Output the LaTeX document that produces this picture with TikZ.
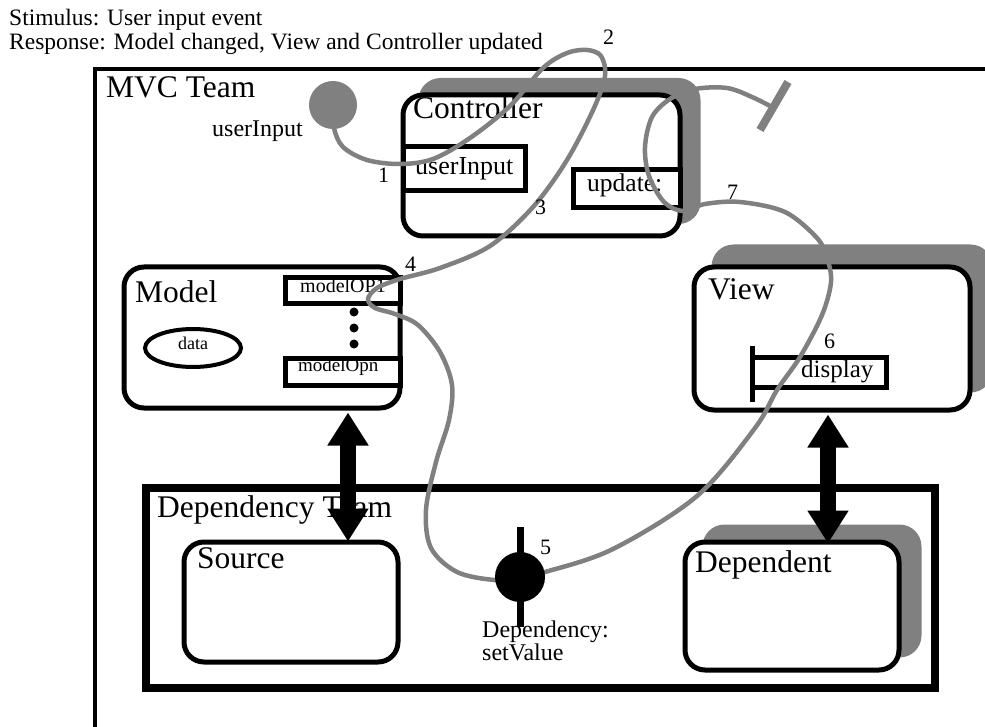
\documentclass[tikz,border=0pt]{standalone}
\usepackage{fontspec}
\setmainfont{Liberation Serif}
\usetikzlibrary{arrows.meta,calc,shapes.geometric}
\begin{document}
\begin{tikzpicture}[x=1pt,y=-1pt,
  txt/.style={inner sep=0pt, anchor=base west},
  fs/.style={font=\fontsize{#1}{#1}\selectfont},
  box/.style={draw, line width=5pt, rounded corners=20pt, fill=white, inner sep=0pt},
  shade/.style={fill=gray, rounded corners=22pt, inner sep=0pt},
  slot/.style={draw, line width=5pt, fill=white, inner sep=0pt},
  flow/.style={draw=gray, line width=4.5pt, line cap=round},
  bigarrow/.style={line width=16pt,
    {Triangle[width=39pt,length=33pt]}-{Triangle[width=39pt,length=33pt]}},
  dot/.style={circle, fill, inner sep=0pt, minimum size=9pt},
]
\fill[white] (0,0) rectangle (985,727);
\useasboundingbox (0,0) rectangle (985,727);
\clip (0,0) rectangle (985,727);

% heading
\node[txt, fs=23.5] (stim) at (9,26) {Stimulus: User input event};
\node[txt, fs=23.5] (resp) at (9,49.5) {Response: Model changed, View and Controller updated};

% MVC team frame (runs off the page right and below)
\draw[line width=4.5pt] (95,740) -- (95,69) -- (1000,69);
\node[txt, fs=31.5] (mvcT) at (106,98) {MVC Team};

% shadows of the active components
\node[shade, minimum width=282, minimum height=146] (ctrlS) at (559.5,151) {};
\node[shade, minimum width=281, minimum height=148] (viewS) at (852,318.5) {};
\node[shade, minimum width=219, minimum height=133] (depnS) at (812,591) {};

% Controller
\node[box, minimum width=277, minimum height=141] (ctrl) at (541.5,165.5) {};
\node[txt, fs=31.5] (ctrlT) at (413,119) {Controller};
\node[slot, minimum width=122, minimum height=44] (uiSlot) at (464,169) {};
\node[txt, fs=26] (uiT) at (415,175) {userInput};
\node[slot, minimum width=107, minimum height=38] (upSlot) at (626.5,189) {};
\node[txt, fs=25.5] (upT) at (587,192) {update:};

% Model
\node[box, minimum width=276, minimum height=141] (model) at (262,337.5) {};
\node[txt, fs=31.5] (modelT) at (135,302) {Model};
\node[slot, minimum width=115, minimum height=26] (op1) at (342.5,291) {};
\node[txt, fs=20] (op1T) at (300,293) {modelOP1};
\node[slot, minimum width=115, minimum height=27] (opn) at (342.5,371.5) {};
\node[txt, fs=19] (opnT) at (298,371) {modelOpn};
\node[dot] (d1) at (354,312) {};
\node[dot] (d2) at (354,328) {};
\node[dot] (d3) at (354,344) {};
\node[draw, ellipse, line width=4pt, inner sep=0pt, minimum width=96, minimum height=38] (data) at (193,348) {};
\node[txt, fs=18] (dataT) at (178,349) {data};

% View
\node[box, minimum width=276, minimum height=143] (view) at (832,338.5) {};
\node[txt, fs=31.5] (viewT) at (708,300) {View};
\node[slot, minimum width=134, minimum height=30] (dispSlot) at (819,372) {};
\coordinate (barTop) at (752,346);
\coordinate (barBot) at (752,402);
\draw[line width=5pt] (barTop) -- (barBot);
\node[txt, fs=25] (dispT) at (801,377) {display};

% Dependency team
\draw[line width=7.5pt] (146,488) rectangle (935,688);
\node[txt, fs=31.5] (depTeamT) at (157,517) {Dependency Team};
\node[box, minimum width=214, minimum height=120] (source) at (291,602) {};
\node[txt, fs=31.5] (sourceT) at (197,568) {Source};
\node[box, minimum width=214, minimum height=128] (depn) at (792,606) {};
\node[txt, fs=31.5] (depnT) at (695,572) {Dependent};

% links between the teams
\coordinate (lx) at (348,0);
\coordinate (rx) at (828,0);
\draw[bigarrow] (model.south -| lx) ++(0,2) -- ([yshift=-2pt]source.north -| lx);
\draw[bigarrow] (view.south -| rx) ++(0,2) -- ([yshift=-4pt]depn.north -| rx);

% scenario path
\node[circle, fill=gray, inner sep=0pt, minimum size=48pt] (uin) at (333,105) {};
\node[txt, fs=24] (uinT) at (212,137) {userInput};
\coordinate (tend) at (772,107);
\coordinate (tbarA) at (760,130);
\coordinate (tbarB) at (788,82);

\draw[flow] plot[smooth, tension=0.55] coordinates {
  (uin.center) (334,128) (343,147) (367,160) (400,164) (433,159) (470,138)
  (510,106) (543,68) (567,53) (587,50) (601,56) (605,76) (594,108) (567,160)
  (533,207) (490,246) (440,268) (400,279) (377,288) (368,299) (375,308)
  (395,314) (418,325) (440,352) (452,385) (449,420) (436,462) (426,510)
  (431,548) (457,572) (495,580) (520,577)};
\draw[flow] plot[smooth, tension=0.55] coordinates {
  (520,577) (545,572) (613,549) (697,496) (755,428) (777,390) (800,357)
  (822,315) (831,282) (827,258) (817,238) (785,212) (740,202) (705,204)
  (683,211) (664,202) (649,176) (645,147) (652,117) (670,99) (695,89)
  (727,88) (752,97) (tend)};
\draw[gray, line width=8pt] (tbarA) -- (tbarB);

% Dependency setValue
\coordinate (depTop) at (520,527);
\coordinate (depBot) at (520,627);
\draw[line width=7pt] (depTop) -- (depBot);
\node[circle, fill, inner sep=0pt, minimum size=50pt] (dep) at (520,577) {};
\node[txt, fs=24] (depT) at (482,637) {Dependency:};
\node[txt, fs=24] (depT2) at (482,660) {setValue};

% step numbers
\node[txt, fs=22] (n1) at (378,183) {1};
\node[txt, fs=22] (n2) at (603,45) {2};
\node[txt, fs=22] (n3) at (535,215) {3};
\node[txt, fs=22] (n4) at (405,272) {4};
\node[txt, fs=22] (n5) at (540,554) {5};
\node[txt, fs=22] (n6) at (824,348) {6};
\node[txt, fs=22] (n7) at (727,200) {7};
\end{tikzpicture}
\end{document}
